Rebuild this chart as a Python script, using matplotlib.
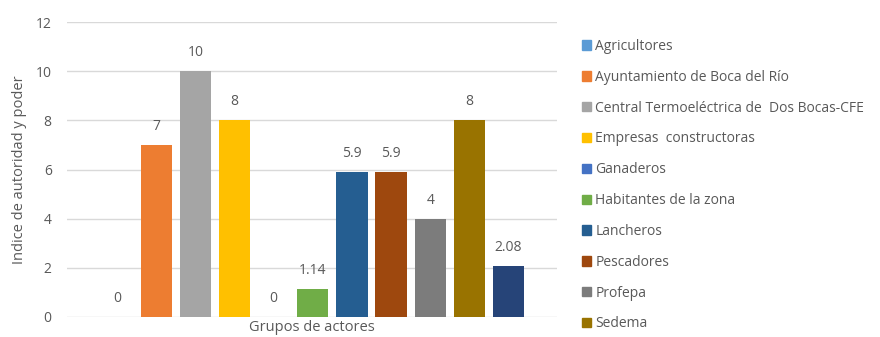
import matplotlib.pyplot as plt
from matplotlib.patches import Patch

plt.rcParams['font.family'] = ['Open Sans', 'DejaVu Sans']

actores = ['Agricultores', 'Ayuntamiento de Boca del Río',
           'Central Termoeléctrica de  Dos Bocas-CFE', 'Empresas  constructoras',
           'Ganaderos', 'Habitantes de la zona', 'Lancheros', 'Pescadores',
           'Profepa', 'Sedema', '']
valores = [0, 7, 10, 8, 0, 1.14, 5.9, 5.9, 4, 8, 2.08]
etiquetas = ['0', '7', '10', '8', '0', '1.14', '5.9', '5.9', '4', '8', '2.08']
colores = ['#5B9BD5', '#ED7D31', '#A5A5A5', '#FFC000', '#4472C4', '#70AD47',
           '#255E91', '#9E480E', '#7C7C7C', '#997300', '#264478']

txt = '#595959'
fig = plt.figure(figsize=(8.8, 3.37), dpi=100)
ax = fig.add_axes([67 / 880, 20 / 337, 490 / 880, 295 / 337])

x = list(range(len(valores)))
ax.bar(x, valores, width=0.8, color=colores, zorder=3)
for xi, v, lab in zip(x, valores, etiquetas):
    ax.text(xi, v + 0.45, lab, ha='center', va='bottom', fontsize=10, color=txt)

ax.set_ylim(0, 12)
ax.set_xlim(-1.28, 10.24 + 1.0)
ax.set_yticks(range(0, 13, 2))
ax.set_xticks([])
ax.grid(axis='y', color='#D9D9D9', linewidth=1, zorder=0)
for s in ax.spines.values():
    s.set_visible(False)
ax.tick_params(axis='y', length=0, labelsize=10, labelcolor=txt, pad=11)
ax.set_ylabel('Indice de autoridad y poder', fontsize=10.5, color=txt, labelpad=6)
ax.set_xlabel('Grupos de actores', fontsize=10.5, color=txt, labelpad=2)

handles = [Patch(color=c) for c in colores[:10]]
fig.legend(handles, actores[:10], loc='upper left',
           bbox_to_anchor=(582 / 880, 1 - 39 / 337), frameon=False,
           fontsize=10, labelcolor=txt, handlelength=0.65, handleheight=0.65,
           handletextpad=0.3, labelspacing=1.14, borderpad=0, borderaxespad=0)

fig.savefig('out.png', dpi=100)
